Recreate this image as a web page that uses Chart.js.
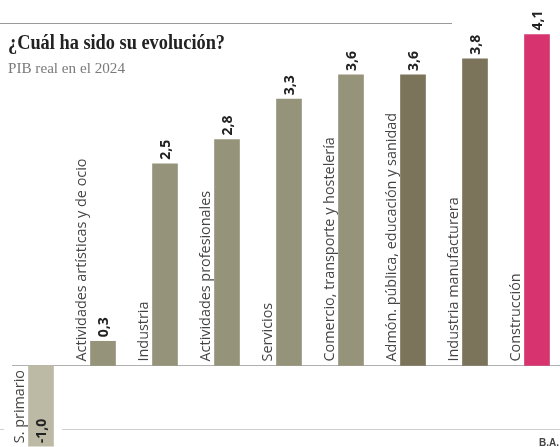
<!DOCTYPE html>
<html>
<head>
<meta charset="utf-8">
<script src="https://cdn.jsdelivr.net/npm/chart.js@4"></script>
<style>
  html, body { margin: 0; padding: 0; background: #fff; overflow: hidden; }
  canvas { display: block; }
</style>
</head>
<body>
<canvas id="pibChart" width="560" height="447"></canvas>
<script>
// Data
const categories = [
  'S. primario',
  'Actividades artísticas y de ocio',
  'Industria',
  'Actividades profesionales',
  'Servicios',
  'Comercio, transporte y hostelería',
  'Admón. pública, educación y sanidad',
  'Industria manufacturera',
  'Construcción'
];
const growth = [-1.0, 0.3, 2.5, 2.8, 3.3, 3.6, 3.6, 3.8, 4.1];
const barColors = ['#bcbaa5', '#95947b', '#95947b', '#95947b', '#95947b', '#95947b', '#7b745a', '#7b745a', '#d6336f'];

const title = '¿Cuál ha sido su evolución?';
const subtitle = 'PIB real en el 2024';
const source = 'B.A.';

const fmt = v => v.toFixed(1).replace('.', ',');

// draw text squeezed/stretched to a given width
function fitText(ctx, text, x, y, width) {
  const w = ctx.measureText(text).width;
  ctx.save();
  ctx.translate(x, y);
  ctx.scale(width / w, 1);
  ctx.fillText(text, 0, 0);
  ctx.restore();
}

// Titles, rules and labels
const decorations = {
  id: 'decorations',
  beforeDatasetsDraw(chart) {
    const ctx = chart.ctx;
    const y = chart.scales.y;
    const zero = Math.round(y.getPixelForValue(0)) + 0.5;
    ctx.save();
    ctx.lineWidth = 1;
    ctx.strokeStyle = '#9a9a9a';
    ctx.beginPath();
    ctx.moveTo(0, 23.5); ctx.lineTo(452, 23.5);
    ctx.stroke();
    ctx.strokeStyle = '#b0b0b0';
    ctx.beginPath();
    ctx.moveTo(12, zero); ctx.lineTo(560, zero);
    ctx.stroke();
    ctx.strokeStyle = '#cfcfcf';
    ctx.beginPath();
    ctx.moveTo(0, 429.5); ctx.lineTo(4, 429.5);
    ctx.moveTo(62, 429.5); ctx.lineTo(560, 429.5);
    ctx.stroke();
    ctx.restore();
  },
  afterDatasetsDraw(chart) {
    const ctx = chart.ctx;
    const meta = chart.getDatasetMeta(0);
    const y = chart.scales.y;
    const zero = y.getPixelForValue(0);
    ctx.save();

    ctx.fillStyle = '#222';
    ctx.font = 'bold 20px "Liberation Serif"';
    ctx.textBaseline = 'alphabetic';
    fitText(ctx, title, 8, 48.5, 217);
    ctx.fillStyle = '#7a7a7a';
    ctx.font = '14px "Liberation Serif"';
    fitText(ctx, subtitle, 8, 72.5, 117);

    ctx.fillStyle = '#444';
    ctx.font = 'bold 10px "Liberation Sans"';
    ctx.textAlign = 'right';
    ctx.fillText(source, 559, 446);

    meta.data.forEach((bar, i) => {
      const v = growth[i];
      const half = bar.width / 2;
      // category label, left of the bar
      ctx.save();
      ctx.translate(bar.x - half - 4.5, v >= 0 ? zero - 4 : bar.y - 3);
      ctx.rotate(-Math.PI / 2);
      ctx.fillStyle = '#444';
      ctx.font = '14.4px "Open Sans"';
      ctx.textAlign = 'left';
      ctx.textBaseline = 'alphabetic';
      ctx.fillText(categories[i], 0, 0);
      ctx.restore();
      // value label
      ctx.save();
      ctx.translate(bar.x, v >= 0 ? bar.y - 4 : bar.y - 3);
      ctx.rotate(-Math.PI / 2);
      ctx.fillStyle = '#222';
      ctx.font = 'bold 14px "Open Sans"';
      ctx.textAlign = 'left';
      ctx.textBaseline = 'middle';
      ctx.fillText(fmt(v), 0, 1);
      ctx.restore();
    });
    ctx.restore();
  }
};

new Chart(document.getElementById('pibChart').getContext('2d'), {
  type: 'bar',
  data: {
    labels: categories,
    datasets: [{
      data: growth,
      backgroundColor: barColors,
      barThickness: 25,
      clip: false
    }]
  },
  options: {
    responsive: false,
    animation: false,
    layout: { padding: { left: 41, right: 23, top: 2.3, bottom: 0.8 } },
    plugins: {
      legend: { display: false },
      tooltip: { enabled: false }
    },
    scales: {
      x: { display: false, offset: false },
      y: { display: false, min: -1, max: 4.5 }
    }
  },
  plugins: [decorations]
});
</script>
</body>
</html>
